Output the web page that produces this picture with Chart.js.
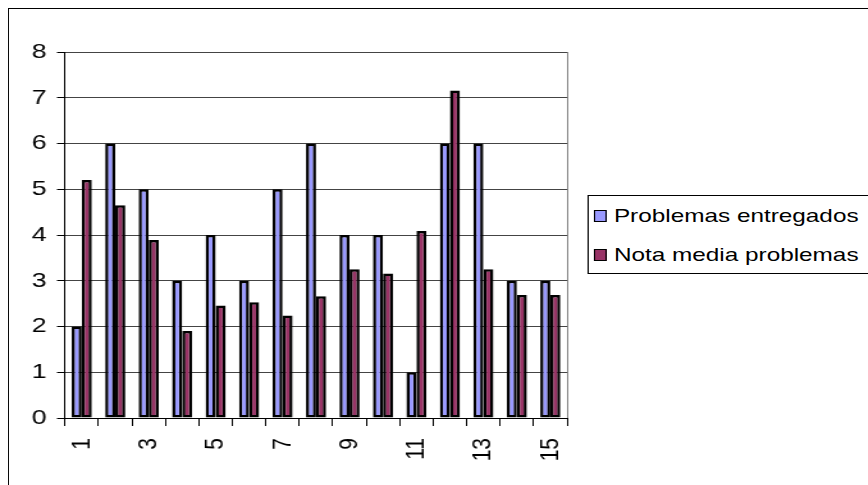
<!DOCTYPE html>
<html>
<head>
<meta charset="utf-8">
<script src="https://cdn.jsdelivr.net/npm/chart.js@4"></script>
<style>
  html, body { margin: 0; padding: 0; overflow: hidden; background: #fff; }
  #wrap {
    position: absolute; left: 0; top: 0;
    width: 678px; height: 485px;
    transform: scaleX(1.28); transform-origin: 0 0;
  }
  #frame {
    position: absolute; left: 6.25px; top: 8px;
    width: 900px; height: 600px;
    border-left: 1px solid #000; border-top: 1px solid #000;
  }
  #legend {
    position: absolute; left: 458.6px; top: 195px;
    width: 300px; height: 77px;
    border: 1px solid #000; background: #fff;
    font-family: "Liberation Sans", Arial, sans-serif; font-size: 19px; color: #000;
  }
  .row { position: absolute; left: 4.5px; height: 22px; display: flex; align-items: center; }
  .sw { width: 7.5px; height: 10px; border: 1.5px solid #000; margin-right: 6px; }
</style>
</head>
<body>
<div id="wrap">
  <div id="frame"></div>
  <canvas id="c" width="678" height="485"></canvas>
  <div id="legend"></div>
</div>
<script>
const categories = ["1", "2", "3", "4", "5", "6", "7", "8", "9", "10", "11", "12", "13", "14", "15"];
const seriesNames = ["Problemas entregados", "Nota media problemas"];
const entregados = [2, 6, 5, 3, 4, 3, 5, 6, 4, 4, 1, 6, 6, 3, 3];
const notaMedia = [5.2, 4.65, 3.89, 1.9, 2.46, 2.53, 2.24, 2.66, 3.25, 3.16, 4.09, 7.16, 3.25, 2.69, 2.69];
const colors = ["#9999ff", "#993366"];

const font = { family: "'Liberation Sans', Arial, sans-serif", size: 21 };

// plot area border on the right side (excel style)
const plotBorder = {
  id: "plotBorder",
  afterDraw(chart) {
    const { ctx, chartArea } = chart;
    ctx.save();
    ctx.strokeStyle = "#808080";
    ctx.lineWidth = 1;
    ctx.beginPath();
    ctx.moveTo(Math.round(chartArea.right) + 0.5, chartArea.top);
    ctx.lineTo(Math.round(chartArea.right) + 0.5, chartArea.bottom);
    ctx.stroke();
    ctx.restore();
  },
};

const chart = new Chart(document.getElementById("c"), {
  type: "bar",
  data: {
    labels: categories,
    datasets: [
      { label: seriesNames[0], data: entregados, backgroundColor: colors[0] },
      { label: seriesNames[1], data: notaMedia, backgroundColor: colors[1] },
    ].map((d) => ({
      ...d,
      borderColor: "#000",
      borderWidth: 2.5,
      borderSkipped: false,
      categoryPercentage: 0.6,
      barPercentage: 1,
    })),
  },
  options: {
    responsive: false,
    animation: false,
    devicePixelRatio: 1,
    layout: { padding: { left: 0, right: 235, top: 52, bottom: 0 } },
    plugins: { legend: { display: false }, tooltip: { enabled: false } },
    scales: {
      x: {
        afterFit: (s) => { s.height = 67; },
        grid: { drawOnChartArea: false, offset: true, tickLength: 8, tickColor: "#000" },
        border: { color: "#000", width: 1 },
        ticks: {
          autoSkip: false,
          minRotation: 90,
          maxRotation: 90,
          padding: 12,
          color: "#000",
          font,
          callback: (v, i) => (i % 2 === 0 ? categories[i] : ""),
        },
      },
      y: {
        min: 0,
        max: 8,
        afterFit: (s) => { s.width = 50.8; },
        grid: { color: "#444", tickLength: 6.3, tickColor: "#000" },
        border: { color: "#000", width: 1 },
        ticks: { stepSize: 1, padding: 8, color: "#000", font },
      },
    },
  },
  plugins: [plotBorder],
});

// legend box
const legend = document.getElementById("legend");
chart.data.datasets.forEach((ds, i) => {
  const row = document.createElement("div");
  row.className = "row";
  row.style.top = (8.5 + i * 39) + "px";
  row.innerHTML = '<div class="sw" style="background:' + ds.backgroundColor + '"></div><span>' + ds.label + "</span>";
  legend.appendChild(row);
});
</script>
</body>
</html>
